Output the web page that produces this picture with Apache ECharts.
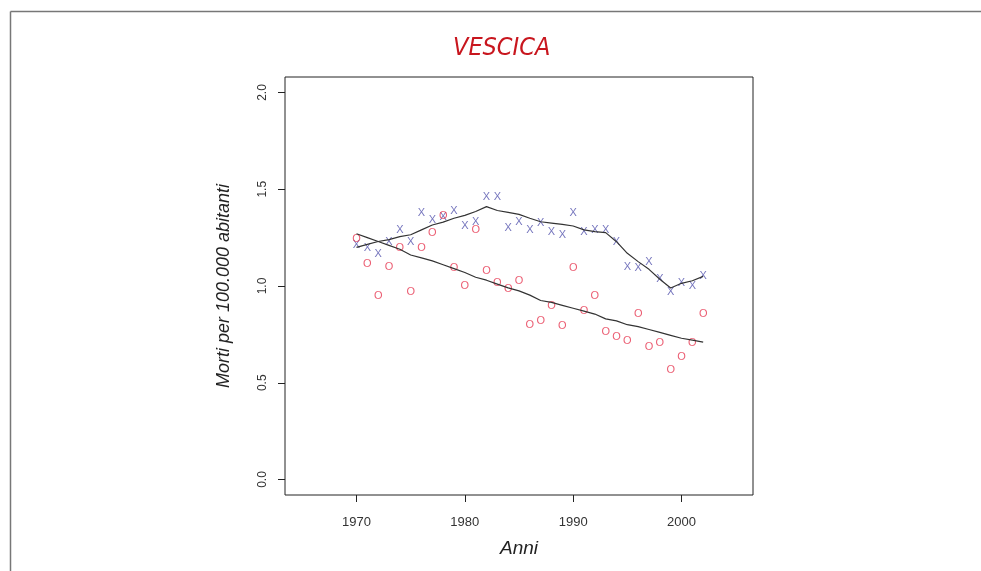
<!DOCTYPE html>
<html>
<head>
<meta charset="utf-8">
<script src="https://cdn.jsdelivr.net/npm/echarts@6/dist/echarts.min.js"></script>
<style>
  html, body { margin: 0; padding: 0; background: #fff; }
  #chart { width: 981px; height: 571px; }
</style>
</head>
<body>
<div id="chart"></div>
<script>
// Bladder cancer mortality (per 100,000), yearly observations and smoothed trends
const years = [1970,1971,1972,1973,1974,1975,1976,1977,1978,1979,1980,1981,1982,1983,1984,1985,
               1986,1987,1988,1989,1990,1991,1992,1993,1994,1995,1996,1997,1998,1999,2000,2001,2002];

// series marked "X"
const seriesX = [1.21,1.195,1.165,1.23,1.29,1.23,1.375,1.34,1.355,1.39,1.31,1.33,1.46,1.46,1.30,1.33,
                 1.29,1.325,1.28,1.265,1.375,1.28,1.29,1.29,1.225,1.10,1.095,1.125,1.035,0.97,1.015,1.0,1.05];
// series marked "O"
const seriesO = [1.245,1.115,0.95,1.10,1.195,0.97,1.195,1.275,1.36,1.095,1.0,1.29,1.08,1.015,0.985,1.025,
                 0.80,0.82,0.895,0.795,1.095,0.87,0.95,0.765,0.735,0.715,0.855,0.685,0.705,0.565,0.635,0.705,0.855];

// smoothed trend lines
const trendX = [1.20,1.215,1.23,1.24,1.255,1.265,1.29,1.315,1.33,1.35,1.365,1.385,1.41,1.39,1.38,1.37,
                1.35,1.332,1.325,1.318,1.31,1.29,1.281,1.276,1.229,1.169,1.126,1.086,1.035,0.99,1.014,1.027,1.05];
const trendO = [1.27,1.25,1.23,1.21,1.19,1.16,1.145,1.13,1.11,1.09,1.07,1.045,1.03,1.01,0.99,0.975,
                0.953,0.925,0.915,0.90,0.885,0.87,0.855,0.83,0.82,0.80,0.79,0.775,0.76,0.745,0.73,0.72,0.71];

const xTicks = [1970, 1980, 1990, 2000];
const yTicks = [0, 0.5, 1.0, 1.5, 2.0];

const pair = (arr) => years.map((y, i) => [y, arr[i]]);

const glyphSeries = (name, arr, glyph, color) => ({
  name: name,
  type: 'scatter',
  data: pair(arr),
  symbol: 'circle',
  symbolSize: 1,
  itemStyle: { color: 'rgba(0,0,0,0)' },
  label: {
    show: true,
    position: 'inside',
    formatter: glyph,
    color: color,
    fontFamily: 'Liberation Sans Narrow, Liberation Sans, sans-serif',
    fontSize: 11
  },
  z: 3
});

const trendSeries = (name, arr) => ({
  name: name,
  type: 'line',
  data: pair(arr),
  symbol: 'none',
  lineStyle: { color: '#333', width: 1.2 },
  z: 4
});

const chart = echarts.init(document.getElementById('chart'), null, { renderer: 'canvas' });

chart.setOption({
  animation: false,
  backgroundColor: '#fff',
  title: {
    text: 'VESCICA',
    left: 448,
    top: 31,
    textStyle: {
      color: '#c8161e',
      fontFamily: 'DejaVu Sans Condensed, DejaVu Sans, sans-serif',
      fontStyle: 'italic',
      fontWeight: 'normal',
      fontSize: 25
    }
  },
  graphic: [
    { type: 'line', shape: { x1: 10.5, y1: 11.5, x2: 981, y2: 11.5 }, style: { stroke: '#777', lineWidth: 1.5 } },
    { type: 'line', shape: { x1: 10.5, y1: 11.5, x2: 10.5, y2: 571 }, style: { stroke: '#777', lineWidth: 1.5 } }
  ],
  grid: {
    left: 285, top: 77, width: 468, height: 418,
    show: true, borderColor: '#222', borderWidth: 1, backgroundColor: 'transparent'
  },
  xAxis: {
    type: 'value',
    min: 1963.4,
    max: 2006.6,
    name: 'Anni',
    nameLocation: 'middle',
    nameGap: 44,
    nameTextStyle: {
      fontFamily: 'Liberation Sans, Arial, sans-serif',
      fontStyle: 'italic', fontSize: 19, color: '#222'
    },
    axisLine: { show: false, onZero: false },
    splitLine: { show: false },
    axisTick: { show: true, inside: false, length: 7, customValues: xTicks, lineStyle: { color: '#222' } },
    axisLabel: {
      customValues: xTicks,
      margin: 21,
      formatter: (v) => String(v),
      fontFamily: 'Liberation Sans, Arial, sans-serif',
      fontSize: 13,
      color: '#333'
    }
  },
  yAxis: {
    type: 'value',
    min: -0.08,
    max: 2.08,
    name: 'Morti per 100.000 abitanti',
    nameLocation: 'middle',
    nameRotate: 90,
    nameGap: 52,
    nameTextStyle: {
      fontFamily: 'Liberation Sans, Arial, sans-serif',
      fontStyle: 'italic', fontSize: 18, color: '#222'
    },
    axisLine: { show: false, onZero: false },
    splitLine: { show: false },
    axisTick: { show: true, inside: false, length: 7, customValues: yTicks, lineStyle: { color: '#222' } },
    axisLabel: {
      customValues: yTicks,
      rotate: 90,
      margin: 16,
      formatter: (v) => v.toFixed(1),
      fontFamily: 'Liberation Sans, Arial, sans-serif',
      fontSize: 12,
      color: '#333'
    }
  },
  series: [
    glyphSeries('X', seriesX, 'X', '#5252ac'),
    glyphSeries('O', seriesO, 'O', '#e6344f'),
    trendSeries('trend X', trendX),
    trendSeries('trend O', trendO)
  ]
});
</script>
</body>
</html>
